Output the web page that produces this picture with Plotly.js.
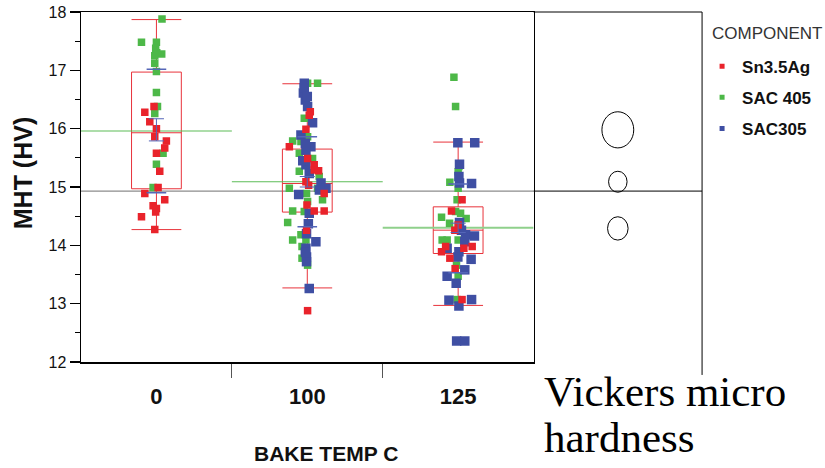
<!DOCTYPE html>
<html><head><meta charset="utf-8">
<script src="https://cdn.plot.ly/plotly-3.0.1.min.js"></script>
<style>html,body{margin:0;padding:0;background:#fff}</style>
</head><body><div id="chart" style="width:825px;height:468px"></div>
<script>
// ---------- data ----------
const groupLabels = ['0', '100', '125'];
const componentNames = ['Sn3.5Ag', 'SAC 405', 'SAC305'];

// Sn3.5Ag (red)
const snGroup = [0,0,0,0,0,0,0,0,0,0,0,0,0,0,0,0,0, 1,1,1,1,1,1,1,1,1,1,1,1,1,1,1,1, 2,2,2,2,2,2,2,2,2,2,2];
const snJitter = [-0.016,-0.077,-0.044,0,-0.011,0.066,0.055,0,0.022,0.011,-0.077,0.055,-0.022,0,-0.005,-0.099,-0.011,
  0.02,0.013,-0.009,-0.119,0.002,0.046,0.046,0.075,-0.009,0.009,0.112,-0.002,0.046,0.112,-0.005,0.002,
  0.026,-0.044,-0.022,-0.083,-0.11,0.038,0.093,-0.055,0.026,0.0,-0.02];
const snHV = [16.38,16.28,16.12,16.00,15.86,15.79,15.67,15.58,15.27,14.99,14.89,14.78,14.68,14.63,14.57,14.49,14.27,
  16.29,16.23,15.99,15.69,15.49,15.38,15.29,15.28,15.09,15.03,14.89,14.69,14.59,14.59,14.26,12.88,
  14.78,14.59,14.26,13.98,13.89,13.95,13.98,13.78,13.07,14.35,13.60];

// SAC 405 (green)
const sac405Group = [0,0,0,0,0,0,0,0,0,0,0,0,0,0,0,
  1,1,1,1,1,1,1,1,1,1,1,1,1,1,1,1,1,1,1,1,1,1,1,1,
  2,2,2,2,2,2,2,2,2,2,2,2,2,2,2,2,2,2];
const sac405Jitter = [0.037,-0.099,0,-0.005,0.002,0.035,-0.011,-0.011,0,0,0.007,-0.011,0.044,0,-0.022,
  0.002,0.068,-0.02,0.002,-0.097,-0.042,-0.053,0.035,-0.053,0.079,-0.119,0.068,-0.005,0.101,0.002,-0.097,-0.02,-0.13,-0.042,-0.097,-0.009,-0.035,-0.035,0.002,
  -0.028,-0.017,0.005,0,-0.055,0,-0.007,-0.017,0.016,-0.11,0.053,-0.057,-0.106,-0.073,0,-0.011,0,-0.007];
const sac405HV = [17.88,17.48,17.48,17.38,17.30,17.28,17.25,17.12,16.98,16.62,16.38,16.26,15.58,15.39,14.99,
  16.78,16.78,16.18,15.86,15.79,15.78,15.58,15.49,15.27,15.18,14.98,14.98,14.89,14.78,14.75,14.59,14.58,14.39,14.18,14.09,14.09,13.98,13.78,13.66,
  16.88,16.38,15.35,15.26,15.08,14.98,14.78,14.58,14.55,14.48,14.46,14.38,14.09,14.09,14.09,13.66,13.47,13.07];

// SAC305 (blue)
const sac305Group = [1,1,1,1,1,1,1,1,1,1,1,1,1,1,1,1,1,1,1,1,1,1,1,1,1,1,1,
  2,2,2,2,2,2,2,2,2,2,2,2,2,2,2,2,2,2,2,2,2,2,2];
const sac305Jitter = [-0.02,-0.026,-0.013,0.002,0.035,-0.042,0.024,-0.009,-0.009,0.013,0.091,0.124,-0.057,0.013,0.007,0.057,-0.009,-0.005,-0.005,0.013,-0.02,0,-0.013,-0.03,0.08,-0.005,-0.013,
  -0.002,0.11,0.009,0.005,0.009,0.089,0.009,0.022,0.049,0.108,0.044,-0.073,0.005,-0.002,0.086,0.044,-0.073,-0.013,-0.061,0.089,0.005,-0.01,0.044];
const sac305HV = [16.78,16.61,16.49,16.38,16.10,15.89,15.69,15.63,15.38,15.23,15.07,14.98,14.87,14.55,14.37,14.06,13.95,13.80,13.72,13.26,16.70,16.55,15.75,15.45,14.95,14.20,13.88,
  15.76,15.76,15.39,15.18,15.07,15.06,14.39,14.26,14.18,14.16,14.06,13.95,13.89,13.80,13.76,13.58,13.47,13.35,13.06,13.07,12.96,12.36,12.36];

// quantile boxes
const boxQ1 = [14.97, 14.57, 13.86];
const boxMedian = [15.93, 15.06, 14.26];
const boxQ3 = [16.97, 15.65, 14.66];
const whiskerLow = [14.27, 13.27, 12.97];
const whiskerHigh = [17.87, 16.77, 15.77];

// group means, std dev lines, mean error bars
const groupMean = [15.96, 15.09, 14.30];
const meanMinusSD = [14.90, 14.32, 13.53];
const meanPlusSD = [17.02, 15.86, 15.05];
const meanMinusSE = [15.79, 15.00, 14.22];
const meanPlusSE = [16.17, 15.18, 14.38];
const grandMean = 14.93;

// comparison circles (centre, radius in HV)
const circleCentre = [15.98, 15.09, 14.29];
const circleRadius = [0.31, 0.18, 0.20];

// ---------- styling ----------
const RED = '#e9232b', GREEN = '#4db848', BLUE = '#3f4fa3';
const FONT = 'Liberation Sans, Arial, sans-serif';

const traces = [];

traces.push({
  type: 'box', x: [0, 1, 2], q1: boxQ1, median: boxMedian, q3: boxQ3,
  lowerfence: whiskerLow, upperfence: whiskerHigh,
  width: 0.33, whiskerwidth: 1, fillcolor: 'rgba(0,0,0,0)',
  line: { color: '#e8333b', width: 1 }, boxpoints: false,
  showlegend: false, hoverinfo: 'skip'
});

groupMean.forEach((m, i) => {
  traces.push({
    type: 'scatter', mode: 'lines', x: [i - 0.5, i + 0.5], y: [m, m],
    line: { color: i === 2 ? '#8fd08b' : '#5cbc57', width: i === 2 ? 2 : 1.2 },
    showlegend: false, hoverinfo: 'skip'
  });
});

function pts(groups, jit, vals, color, size, name) {
  return {
    type: 'scatter', mode: 'markers', name: name,
    x: groups.map((g, k) => g + jit[k]), y: vals,
    marker: { symbol: 'square', size: size, color: color, line: { width: 0 } },
    showlegend: false
  };
}
traces.push(pts(sac405Group, sac405Jitter, sac405HV, GREEN, 7.5, componentNames[1]));
traces.push(pts(sac305Group, sac305Jitter, sac305HV, BLUE, 9.5, componentNames[2]));
traces.push(pts(snGroup, snJitter, snHV, RED, 7.5, componentNames[0]));

// std dev lines and mean error bars
const sdX = [], sdY = [], seX = [], seY = [];
groupMean.forEach((m, i) => {
  sdX.push(i - 0.065, i + 0.065, null, i - 0.065, i + 0.065, null);
  sdY.push(meanMinusSD[i], meanMinusSD[i], null, meanPlusSD[i], meanPlusSD[i], null);
  seX.push(i - 0.05, i + 0.05, null, i, i, null, i - 0.05, i + 0.05, null);
  seY.push(meanMinusSE[i], meanMinusSE[i], null, meanMinusSE[i], meanPlusSE[i], null, meanPlusSE[i], meanPlusSE[i], null);
});
traces.push({ type: 'scatter', mode: 'lines', x: sdX, y: sdY, line: { color: '#5566b8', width: 1.5 }, showlegend: false, hoverinfo: 'skip' });
traces.push({ type: 'scatter', mode: 'lines', x: seX, y: seY, line: { color: '#5566b8', width: 1 }, showlegend: false, hoverinfo: 'skip' });

// legend-only entries
[[componentNames[0], RED], [componentNames[1], GREEN], [componentNames[2], BLUE]].forEach(([n, c], k) => {
  traces.push({
    type: 'scatter', mode: 'markers', x: [null], y: [null], name: n, legendgroup: 'g' + k,
    marker: { symbol: 'square', size: 5, color: c }, showlegend: true
  });
});

const pxPerHV = 350 / 6;
const shapes = [
  { type: 'line', xref: 'x domain', x0: 0, x1: 1, yref: 'y', y0: grandMean, y1: grandMean, line: { color: '#8c8c8c', width: 1.2 }, layer: 'below' },
  { type: 'line', xref: 'x2 domain', x0: 0, x1: 1, yref: 'y', y0: grandMean, y1: grandMean, line: { color: '#000', width: 1 } },
  { type: 'line', xref: 'x2 domain', x0: 0, x1: 1, yref: 'paper', y0: 1, y1: 1, line: { color: '#000', width: 1 } },
  { type: 'line', xref: 'x2 domain', x0: 1, x1: 1, yref: 'paper', y0: -0.037, y1: 1, line: { color: '#000', width: 1 } }
];
circleCentre.forEach((c, i) => {
  const rx = circleRadius[i] * pxPerHV * 0.88;
  shapes.push({
    type: 'circle', xref: 'x2', xsizemode: 'pixel', xanchor: 0.5, x0: -rx, x1: rx,
    yref: 'y', y0: c - circleRadius[i], y1: c + circleRadius[i],
    line: { color: '#000', width: 1 }
  });
});

const layout = {
  width: 825, height: 468,
  margin: { l: 81, r: 121, t: 12, b: 106 },
  paper_bgcolor: '#fff', plot_bgcolor: '#fff',
  showlegend: true,
  font: { family: FONT, color: '#222' },
  xaxis: {
    domain: [0, 0.7287], range: [-0.5, 2.5], showgrid: false, zeroline: false,
    showline: true, linecolor: '#000', linewidth: 1.5, mirror: true,
    tickmode: 'array', tickvals: [0, 1, 2], ticktext: groupLabels,
    ticks: 'outside', ticklen: 14, tickcolor: 'rgba(0,0,0,0)',
    minor: { tickmode: 'array', tickvals: [0.5, 1.5], ticks: 'outside', ticklen: 14, tickcolor: '#555', tickwidth: 1 },
    tickfont: { family: FONT, size: 22, weight: 'bold', color: '#111' }
  },
  xaxis2: {
    domain: [0.7287, 1], range: [0, 1], anchor: 'y', showgrid: false, zeroline: false,
    showline: false, showticklabels: false, ticks: ''
  },
  yaxis: {
    range: [12, 18], showgrid: false, zeroline: false,
    showline: true, linecolor: '#000', linewidth: 1.5, mirror: true,
    tickmode: 'linear', tick0: 12, dtick: 1, ticks: 'outside', ticklen: 10, tickcolor: '#000', tickwidth: 1.2,
    minor: { dtick: 0.5, ticks: 'outside', ticklen: 5, tickcolor: '#000', tickwidth: 1 },
    tickfont: { family: FONT, size: 16, color: '#111' }
  },
  legend: {
    xref: 'container', yref: 'container', x: 0.851, y: 0.896, xanchor: 'left', yanchor: 'top',
    font: { family: FONT, size: 17, weight: 'bold', color: '#111' },
    tracegroupgap: 6, bgcolor: 'rgba(0,0,0,0)'
  },
  shapes: shapes,
  annotations: [
    { xref: 'paper', yref: 'paper', x: -0.093, y: 0.54, xanchor: 'center', yanchor: 'middle', showarrow: false,
      textangle: -90, text: 'MHT (HV)', font: { family: FONT, size: 25, weight: 'bold', color: '#111' } },
    { xref: 'paper', yref: 'paper', x: 0.395, y: -0.262, xanchor: 'center', yanchor: 'middle', showarrow: false,
      text: 'BAKE TEMP C', font: { family: FONT, size: 21, weight: 'bold', color: '#111' } },
    { xref: 'paper', yref: 'paper', x: 1.0128, y: 0.94, xanchor: 'left', yanchor: 'middle', showarrow: false,
      text: 'COMPONENT', font: { family: FONT, size: 17, color: '#333' } },
    { xref: 'paper', yref: 'paper', x: 0.7416, y: -0.085, xanchor: 'left', yanchor: 'middle', showarrow: false,
      text: 'Vickers micro', font: { family: 'Liberation Serif, Times New Roman, serif', size: 43, color: '#000' } },
    { xref: 'paper', yref: 'paper', x: 0.7416, y: -0.215, xanchor: 'left', yanchor: 'middle', showarrow: false,
      text: 'hardness', font: { family: 'Liberation Serif, Times New Roman, serif', size: 43, color: '#000' } }
  ]
};

Plotly.newPlot('chart', traces, layout, { displayModeBar: false, staticPlot: true });
</script>
</body></html>
